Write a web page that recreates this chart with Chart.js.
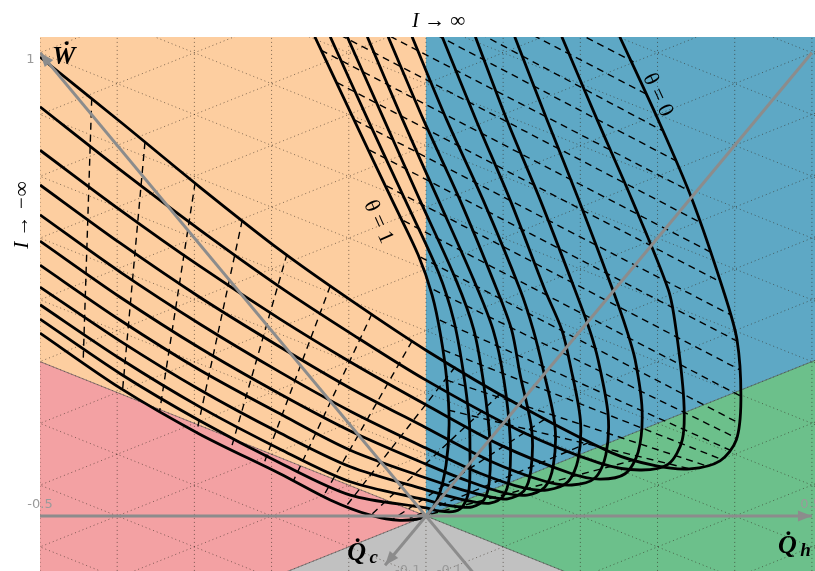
<!DOCTYPE html>
<html>
<head>
<meta charset="utf-8">
<script src="https://cdn.jsdelivr.net/npm/chart.js@4.4.1/dist/chart.umd.min.js"></script>
<style>
  html, body { margin: 0; padding: 0; background: #fff; }
  #wrap { width: 815px; height: 571px; }
</style>
</head>
<body>
<div id="wrap"><canvas id="chart" width="815" height="571"></canvas></div>
<script>
// plot units: x along Q_h, y vertical, origin where the curves meet

// solid curves, one per theta (0 ... 1), from I -> -inf (left) to I -> inf (top)
var curveT00 = [[-0.5,0.858],[-0.396,0.737],[-0.293,0.615],[-0.189,0.497],[-0.098,0.404],[0,0.310],[0.122,0.206],[0.241,0.118],[0.297,0.094],[0.342,0.088],[0.381,0.103],[0.402,0.142],[0.408,0.217],[0.403,0.329],[0.385,0.423],[0.345,0.591],[0.301,0.740],[0.251,0.896]];
var curveT01 = [[-0.5,0.765],[-0.396,0.647],[-0.293,0.535],[-0.189,0.428],[-0.098,0.342],[0,0.254],[0.122,0.159],[0.225,0.099],[0.277,0.086],[0.314,0.097],[0.332,0.142],[0.334,0.217],[0.324,0.348],[0.314,0.423],[0.267,0.591],[0.222,0.740],[0.176,0.896]];
var curveT02 = [[-0.5,0.684],[-0.396,0.572],[-0.293,0.467],[-0.189,0.368],[-0.098,0.288],[0,0.208],[0.096,0.133],[0.187,0.080],[0.225,0.069],[0.258,0.079],[0.275,0.120],[0.280,0.198],[0.271,0.292],[0.260,0.348],[0.242,0.423],[0.198,0.591],[0.157,0.740],[0.115,0.896]];
var curveT03 = [[-0.5,0.619],[-0.396,0.510],[-0.293,0.409],[-0.189,0.316],[-0.098,0.239],[0,0.165],[0.083,0.103],[0.154,0.065],[0.189,0.058],[0.219,0.071],[0.233,0.114],[0.236,0.189],[0.223,0.292],[0.212,0.348],[0.193,0.423],[0.148,0.591],[0.105,0.740],[0.064,0.896]];
var curveT04 = [[-0.5,0.563],[-0.396,0.456],[-0.293,0.359],[-0.189,0.269],[-0.098,0.196],[0,0.127],[0.070,0.080],[0.128,0.052],[0.158,0.049],[0.184,0.064],[0.197,0.105],[0.200,0.180],[0.187,0.282],[0.176,0.348],[0.154,0.423],[0.109,0.591],[0.065,0.740],[0.021,0.896]];
var curveT05 = [[-0.5,0.514],[-0.396,0.409],[-0.293,0.314],[-0.189,0.228],[-0.098,0.159],[0,0.097],[0.057,0.064],[0.102,0.043],[0.131,0.039],[0.154,0.054],[0.165,0.095],[0.167,0.170],[0.152,0.273],[0.139,0.348],[0.122,0.423],[0.074,0.591],[0.027,0.740],[-0.018,0.896]];
var curveT06 = [[-0.5,0.469],[-0.396,0.366],[-0.293,0.273],[-0.189,0.191],[-0.098,0.123],[0,0.071],[0.047,0.049],[0.083,0.036],[0.106,0.032],[0.127,0.047],[0.136,0.086],[0.137,0.161],[0.122,0.264],[0.111,0.348],[0.092,0.423],[0.044,0.591],[-0.003,0.740],[-0.049,0.896]];
var curveT07 = [[-0.5,0.428],[-0.396,0.327],[-0.293,0.236],[-0.189,0.155],[-0.098,0.092],[0,0.049],[0.038,0.034],[0.064,0.026],[0.083,0.024],[0.100,0.037],[0.108,0.073],[0.109,0.148],[0.101,0.254],[0.087,0.348],[0.062,0.441],[0.016,0.591],[-0.030,0.740],[-0.076,0.896]];
var curveT08 = [[-0.5,0.395],[-0.396,0.294],[-0.293,0.204],[-0.189,0.125],[-0.098,0.064],[0,0.030],[0.025,0.021],[0.044,0.017],[0.060,0.017],[0.075,0.030],[0.082,0.064],[0.083,0.138],[0.075,0.245],[0.062,0.348],[0.039,0.441],[-0.008,0.591],[-0.054,0.740],[-0.102,0.896]];
var curveT09 = [[-0.5,0.368],[-0.396,0.266],[-0.293,0.178],[-0.189,0.099],[-0.098,0.039],[0,0.015],[0.018,0.009],[0.038,0.009],[0.049,0.021],[0.056,0.052],[0.057,0.127],[0.056,0.180],[0.048,0.273],[0.036,0.366],[0.016,0.456],[-0.027,0.591],[-0.075,0.740],[-0.124,0.896]];
var curveT10 = [[-0.5,0.342],[-0.396,0.239],[-0.293,0.153],[-0.189,0.079],[-0.124,0.030],[-0.073,0.002],[-0.034,-0.008],[0,0],[0.016,0.036],[0.026,0.095],[0.030,0.170],[0.027,0.254],[0.019,0.338],[0.008,0.413],[-0.010,0.488],[-0.044,0.591],[-0.093,0.740],[-0.144,0.896]];

// dashed lines of constant I < 0, theta = 0 end first, then theta = 1 end
var dashNeg = [
  [[-0.433,0.780],[-0.444,0.292]],
  [[-0.364,0.699],[-0.393,0.236]],
  [[-0.299,0.623],[-0.345,0.196]],
  [[-0.238,0.553],[-0.297,0.157]],
  [[-0.180,0.490],[-0.253,0.123]],
  [[-0.124,0.430],[-0.211,0.094]],
  [[-0.070,0.378],[-0.172,0.065]],
  [[-0.018,0.327],[-0.133,0.037]],
  [[0.038,0.279],[-0.102,0.021]],
  [[0.096,0.228],[-0.071,0.002]],
  [[0.154,0.181],[-0.043,-0.006]],
  [[0.212,0.138],[-0.021,-0.004]],
  [[0.271,0.105],[-0.008,-0.002]]
];
// dashed lines of constant I > 0, theta = 1 side first, then theta = 0 side
var dashPos = [
  [[0.001,1.049],[0.269,0.849]],
  [[0.001,1.002],[0.288,0.787]],
  [[0.001,0.955],[0.307,0.720]],
  [[0.001,0.909],[0.324,0.664]],
  [[-0.060,0.907],[0.341,0.608]],
  [[-0.111,0.899],[0.354,0.550]],
  [[-0.136,0.871],[0.368,0.494]],
  [[-0.115,0.810],[0.381,0.438]],
  [[-0.092,0.740],[0.395,0.376]],
  [[-0.073,0.684],[0.403,0.327]],
  [[-0.051,0.617],[0.407,0.273]],
  [[-0.029,0.552],[0.408,0.224]],
  [[-0.007,0.484],[0.405,0.174]],
  [[0.010,0.423],[0.402,0.146]],
  [[0.018,0.366],[0.394,0.123]],
  [[0.023,0.310],[0.381,0.107]],
  [[0.027,0.254],[0.361,0.095]],
  [[0.029,0.198],[0.342,0.088]]
];

// grey axes through the origin (Q_h, W, Q_c)
var axisQh = [[-0.5,0],[0.5,0]];
var axisW  = [[0.075,-0.13],[-0.5,0.866]];
var axisQc = [[0.5,0.866],[-0.053,-0.092]];

// coloured sectors round the origin, angles in degrees
var regionColors = ['#fdcea0', '#f3a1a3', '#c1c1c1', '#6cc08b', '#5ea8c5'];
var regionFrom   = [90, 150, 210, 330, 30];
var regionTo     = [150, 210, 330, 390, 90];

var curves = [curveT00, curveT01, curveT02, curveT03, curveT04, curveT05,
              curveT06, curveT07, curveT08, curveT09, curveT10];

function toXY(p) { return { x: p[0], y: p[1] }; }

var datasets = [];
[axisQh, axisW, axisQc].forEach(function (a) {
    datasets.push({ data: a.map(toXY), showLine: true, borderColor: '#8c8c8c', borderWidth: 3,
        pointRadius: 0, tension: 0, order: 0, clip: 0 });
});
curves.forEach(function (c) {
    datasets.push({ data: c.map(toXY), showLine: true, borderColor: '#000', borderWidth: 2.8,
        pointRadius: 0, tension: 0.3, order: 1, clip: 0 });
});
dashNeg.concat(dashPos).forEach(function (d) {
    datasets.push({ data: d.map(toXY), showLine: true, borderColor: '#000', borderWidth: 1.4,
        borderDash: [7, 5], pointRadius: 0, tension: 0, order: 2, clip: 0 });
});

var ternaryPlugin = {
    id: 'ternary',
    beforeDatasetsDraw: function (chart) {
        var ctx = chart.ctx, xs = chart.scales.x, ys = chart.scales.y, area = chart.chartArea;
        function px(x) { return xs.getPixelForValue(x); }
        function py(y) { return ys.getPixelForValue(y); }
        ctx.save();
        ctx.beginPath();
        ctx.rect(area.left, area.top, area.right - area.left, area.bottom - area.top);
        ctx.clip();

        // sectors
        regionColors.forEach(function (col, i) {
            ctx.beginPath();
            ctx.moveTo(px(0), py(0));
            for (var a = regionFrom[i]; a <= regionTo[i]; a += 15) {
                var r = a * Math.PI / 180;
                ctx.lineTo(px(3 * Math.cos(r)), py(3 * Math.sin(r)));
            }
            ctx.closePath();
            ctx.fillStyle = col;
            ctx.fill();
        });

        // dotted triangular grid
        ctx.setLineDash([1, 3]);
        ctx.lineWidth = 1;
        ctx.strokeStyle = 'rgba(50,40,30,0.6)';
        for (var i = -6; i <= 6; i++) {
            ctx.beginPath();
            ctx.moveTo(px(i / 10), py(-1));
            ctx.lineTo(px(i / 10), py(2));
            ctx.stroke();
        }
        var t = Math.tan(Math.PI / 6), step = 0.2 / Math.sqrt(3);
        for (var k = -14; k <= 14; k++) {
            ctx.beginPath();
            ctx.moveTo(px(-0.7), py(-0.7 * t + k * step));
            ctx.lineTo(px(0.7), py(0.7 * t + k * step));
            ctx.stroke();
            ctx.beginPath();
            ctx.moveTo(px(-0.7), py(0.7 * t + k * step));
            ctx.lineTo(px(0.7), py(-0.7 * t + k * step));
            ctx.stroke();
        }

        // thin edges between the sectors
        ctx.setLineDash([]);
        ctx.strokeStyle = 'rgba(60,60,60,0.55)';
        [30, 150, 210, 330].forEach(function (a) {
            var r = a * Math.PI / 180;
            ctx.beginPath();
            ctx.moveTo(px(0), py(0));
            ctx.lineTo(px(3 * Math.cos(r)), py(3 * Math.sin(r)));
            ctx.stroke();
        });
        ctx.restore();
    },
    afterDatasetsDraw: function (chart) {
        var ctx = chart.ctx, xs = chart.scales.x, ys = chart.scales.y;
        function px(x) { return xs.getPixelForValue(x); }
        function py(y) { return ys.getPixelForValue(y); }

        // arrow heads
        ctx.save();
        ctx.fillStyle = '#8c8c8c';
        [[axisQh[1], axisQh[0]], [axisW[1], [0, 0]], [axisQc[1], [0, 0]]].forEach(function (a) {
            var tx = px(a[0][0]), ty = py(a[0][1]);
            var fx = px(a[1][0]), fy = py(a[1][1]);
            var ang = Math.atan2(ty - fy, tx - fx);
            ctx.beginPath();
            ctx.moveTo(tx, ty);
            ctx.lineTo(tx - 14 * Math.cos(ang) + 5.5 * Math.sin(ang), ty - 14 * Math.sin(ang) - 5.5 * Math.cos(ang));
            ctx.lineTo(tx - 14 * Math.cos(ang) - 5.5 * Math.sin(ang), ty - 14 * Math.sin(ang) + 5.5 * Math.cos(ang));
            ctx.closePath();
            ctx.fill();
        });

        function text(s, x, y, font, color, align, angle) {
            ctx.save();
            ctx.translate(px(x), py(y));
            if (angle) ctx.rotate(angle * Math.PI / 180);
            ctx.font = font;
            ctx.fillStyle = color;
            ctx.textAlign = align || 'left';
            ctx.textBaseline = angle ? 'middle' : 'alphabetic';
            ctx.fillText(s, 0, 0);
            ctx.restore();
        }

        var tickFont = '13px "DejaVu Sans", sans-serif', grey = '#9a9a9a';
        text('1', -0.507, 0.846, tickFont, grey, 'right');
        text('-0.5', -0.5, 0.015, tickFont, grey, 'center');
        text('0.5', 0.485, 0.015, tickFont, grey, 'left');
        text('-0.1', -0.040, -0.109, tickFont, grey, 'left');
        text('-0.1', 0.014, -0.109, tickFont, grey, 'left');

        var big = 'bold italic 26px "Liberation Serif", "DejaVu Serif", serif';
        text('W\u0307', -0.484, 0.845, big, '#000', 'left');
        text('Q\u0307', 0.456, -0.070, big, '#000', 'left');
        text('h', 0.485, -0.075, 'bold italic 19px "Liberation Serif", serif', '#000', 'left');
        text('Q\u0307', -0.102, -0.083, big, '#000', 'left');
        text('c', -0.073, -0.088, 'bold italic 19px "Liberation Serif", serif', '#000', 'left');

        var lim = 'italic 21px "Liberation Serif", "DejaVu Serif", serif';
        text('I \u2192 \u221e', -0.018, 0.914, lim, '#000', 'left');
        text('I \u2192 \u2212\u221e', -0.523, 0.563, lim, '#000', 'center', -90);
        text('\u03b8 = 0', 0.300, 0.787, '22px "Liberation Serif", serif', '#000', 'center', 65);
        text('\u03b8 = 1', -0.062, 0.550, '22px "Liberation Serif", serif', '#000', 'center', 66);
        ctx.restore();
    }
};

new Chart(document.getElementById('chart'), {
    type: 'scatter',
    data: { datasets: datasets },
    options: {
        responsive: false,
        animation: false,
        events: [],
        layout: { padding: { left: 40, top: 37, right: 0, bottom: 0 } },
        plugins: { legend: { display: false }, tooltip: { enabled: false } },
        scales: {
            x: { type: 'linear', min: -0.5, max: 0.504, display: false },
            y: { type: 'linear', min: -0.1028, max: 0.8955, display: false }
        }
    },
    plugins: [ternaryPlugin]
});
</script>
</body>
</html>
